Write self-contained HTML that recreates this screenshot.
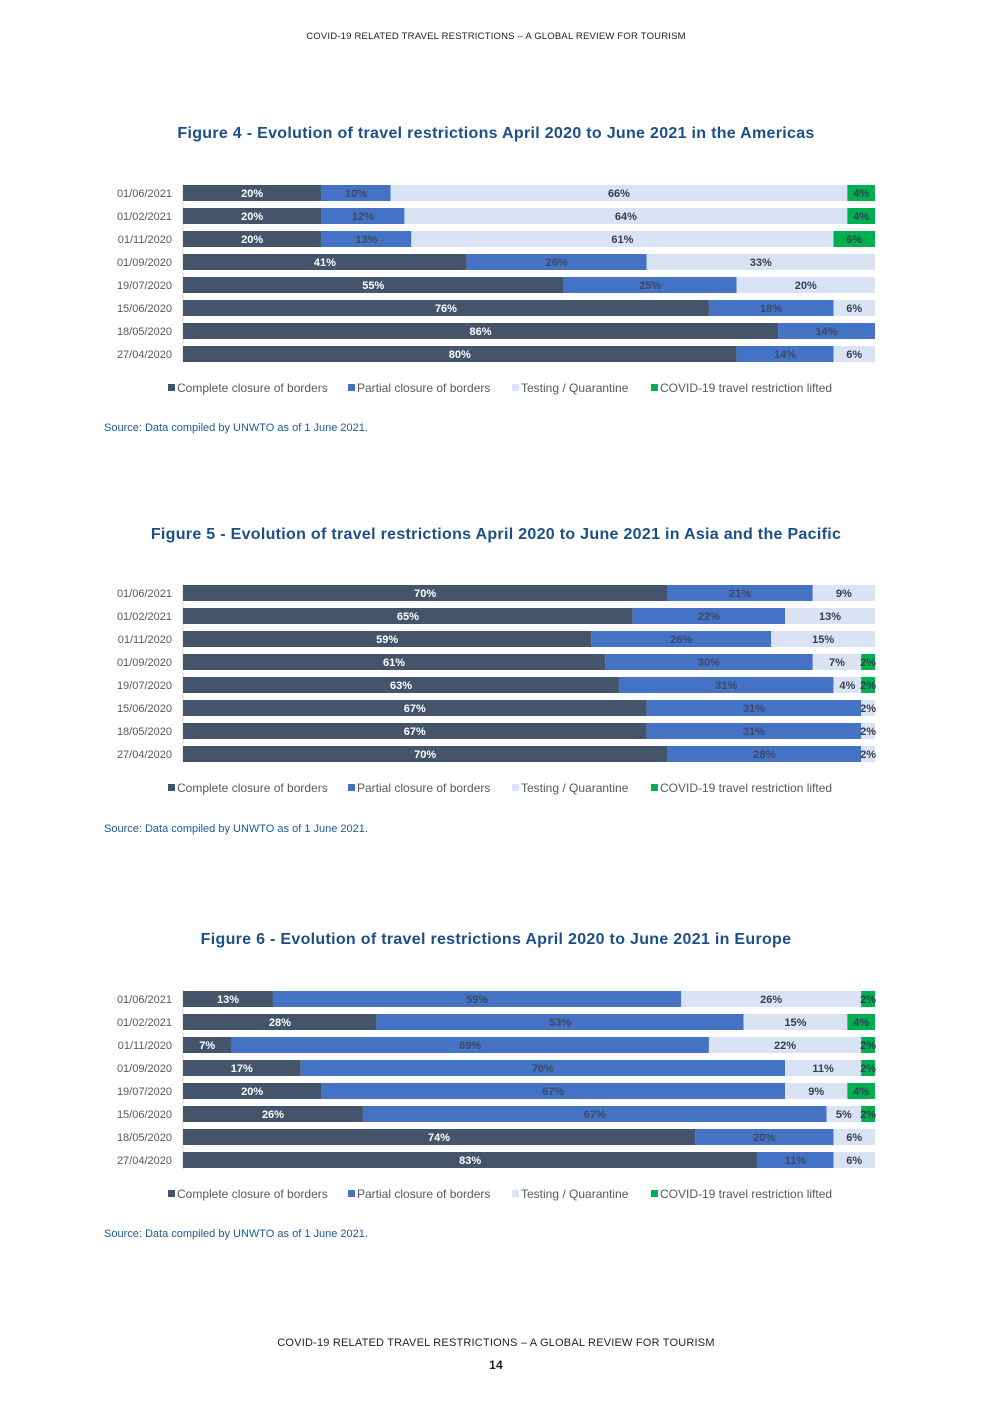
<!DOCTYPE html>
<html><head><meta charset="utf-8"><style>
body{margin:0;background:#fff;width:992px;height:1403px;overflow:hidden;position:relative;font-family:"Liberation Sans",sans-serif}
.hdr{position:absolute;left:0;width:992px;text-align:center;font-size:9.5px;color:#222;letter-spacing:0.2px}
.title{position:absolute;left:0;width:992px;text-align:center;font-size:16px;font-weight:bold;color:#1b4f8a;letter-spacing:0.3px}
.src{position:absolute;left:104px;font-size:11px;color:#1b5a9a}
svg{position:absolute;left:0;top:0}
</style></head><body>
<div class="hdr" style="top:31px">COVID-19 RELATED TRAVEL RESTRICTIONS – A GLOBAL REVIEW FOR TOURISM</div>
<div class="title" style="top:125px">Figure 4 - Evolution of travel restrictions April 2020 to June 2021 in the Americas</div>
<div class="src" style="top:422px">Source: Data compiled by UNWTO as of 1 June 2021.</div>
<div class="title" style="top:526px">Figure 5 - Evolution of travel restrictions April 2020 to June 2021 in Asia and the Pacific</div>
<div class="src" style="top:823px">Source: Data compiled by UNWTO as of 1 June 2021.</div>
<div class="title" style="top:931px">Figure 6 - Evolution of travel restrictions April 2020 to June 2021 in Europe</div>
<div class="src" style="top:1228px">Source: Data compiled by UNWTO as of 1 June 2021.</div>
<div class="hdr" style="top:1337px;font-size:11px">COVID-19 RELATED TRAVEL RESTRICTIONS – A GLOBAL REVIEW FOR TOURISM</div>
<div class="hdr" style="top:1358px;font-size:12px;font-weight:bold">14</div>
<svg id="chart" width="992" height="1403"></svg>
<script>
const dates = ["01/06/2021","01/02/2021","01/11/2020","01/09/2020","19/07/2020","15/06/2020","18/05/2020","27/04/2020"];
const seriesNames = ["Complete closure of borders","Partial closure of borders","Testing / Quarantine","COVID-19 travel restriction lifted"];
const amComplete = [20,20,20,41,55,76,86,80];
const amPartial  = [10,12,13,26,25,18,14,14];
const amTesting  = [66,64,61,33,20,6,0,6];
const amLifted   = [4,4,6,0,0,0,0,0];
const apComplete = [70,65,59,61,63,67,67,70];
const apPartial  = [21,22,26,30,31,31,31,28];
const apTesting  = [9,13,15,7,4,2,2,2];
const apLifted   = [0,0,0,2,2,0,0,0];
const euComplete = [13,28,7,17,20,26,74,83];
const euPartial  = [59,53,69,70,67,67,20,11];
const euTesting  = [26,15,22,11,9,5,6,6];
const euLifted   = [2,4,2,2,4,2,0,0];

const colors = ["#44546a","#4472c4","#dae3f3","#00b050"];
const labelColors = ["#ffffff","#3a4a66","#333f50","#333f50"];
const svg = document.getElementById('chart');
const NS = "http://www.w3.org/2000/svg";
const X0 = 183, W = 692;
function xScale(v){ return X0 + v/100*W; }
function mk(tag, attrs){ const e=document.createElementNS(NS,tag); for(const k in attrs) e.setAttribute(k,attrs[k]); svg.appendChild(e); return e; }

function drawChart(top, series, key){
  const step = 23;
  const ax = mk('line',{x1:X0,x2:X0,y1:top-9,y2:top+7*step+10,stroke:'#d9d9d9','stroke-width':1});
  
  
  dates.forEach((d,i)=>{
    const yc = top + i*step;
    const t = mk('text',{x:172,y:yc+4,'text-anchor':'end','font-size':11,fill:'#595959','font-family':'Liberation Sans, sans-serif'});
    t.textContent = d;
    
    
    const sum = series.reduce((s,a)=>s+a[i],0);
    let acc = 0;
    series.forEach((arr,si)=>{
      const v = arr[i];
      if(!v) return;
      const x1 = xScale(acc/sum*100), x2 = xScale((acc+v)/sum*100);
      acc += v;
      const r = mk('rect',{x:x1,y:yc-8,width:x2-x1,height:16,fill:colors[si]});
      
      
      const lt = mk('text',{x:(x1+x2)/2,y:yc+4,'text-anchor':'middle','font-size':11,'font-weight':'bold',fill:labelColors[si],'font-family':'Liberation Sans, sans-serif'});
      lt.textContent = v+'%';
      
      
    });
  });
  const ly = top + 7*step + 38;
  const lx = [168,348,512,651];
  seriesNames.forEach((n,si)=>{
    const sq = mk('rect',{x:lx[si],y:ly-8,width:7,height:7,fill:colors[si]});
    
    
    const t = mk('text',{x:lx[si]+9,y:ly,'font-size':12,fill:'#595959','font-family':'Liberation Sans, sans-serif'});
    t.textContent = n;
    
    
  });
}
drawChart(193,[amComplete,amPartial,amTesting,amLifted],'americas');
drawChart(593,[apComplete,apPartial,apTesting,apLifted],'asia-pacific');
drawChart(999,[euComplete,euPartial,euTesting,euLifted],'europe');
</script>
</body></html>
